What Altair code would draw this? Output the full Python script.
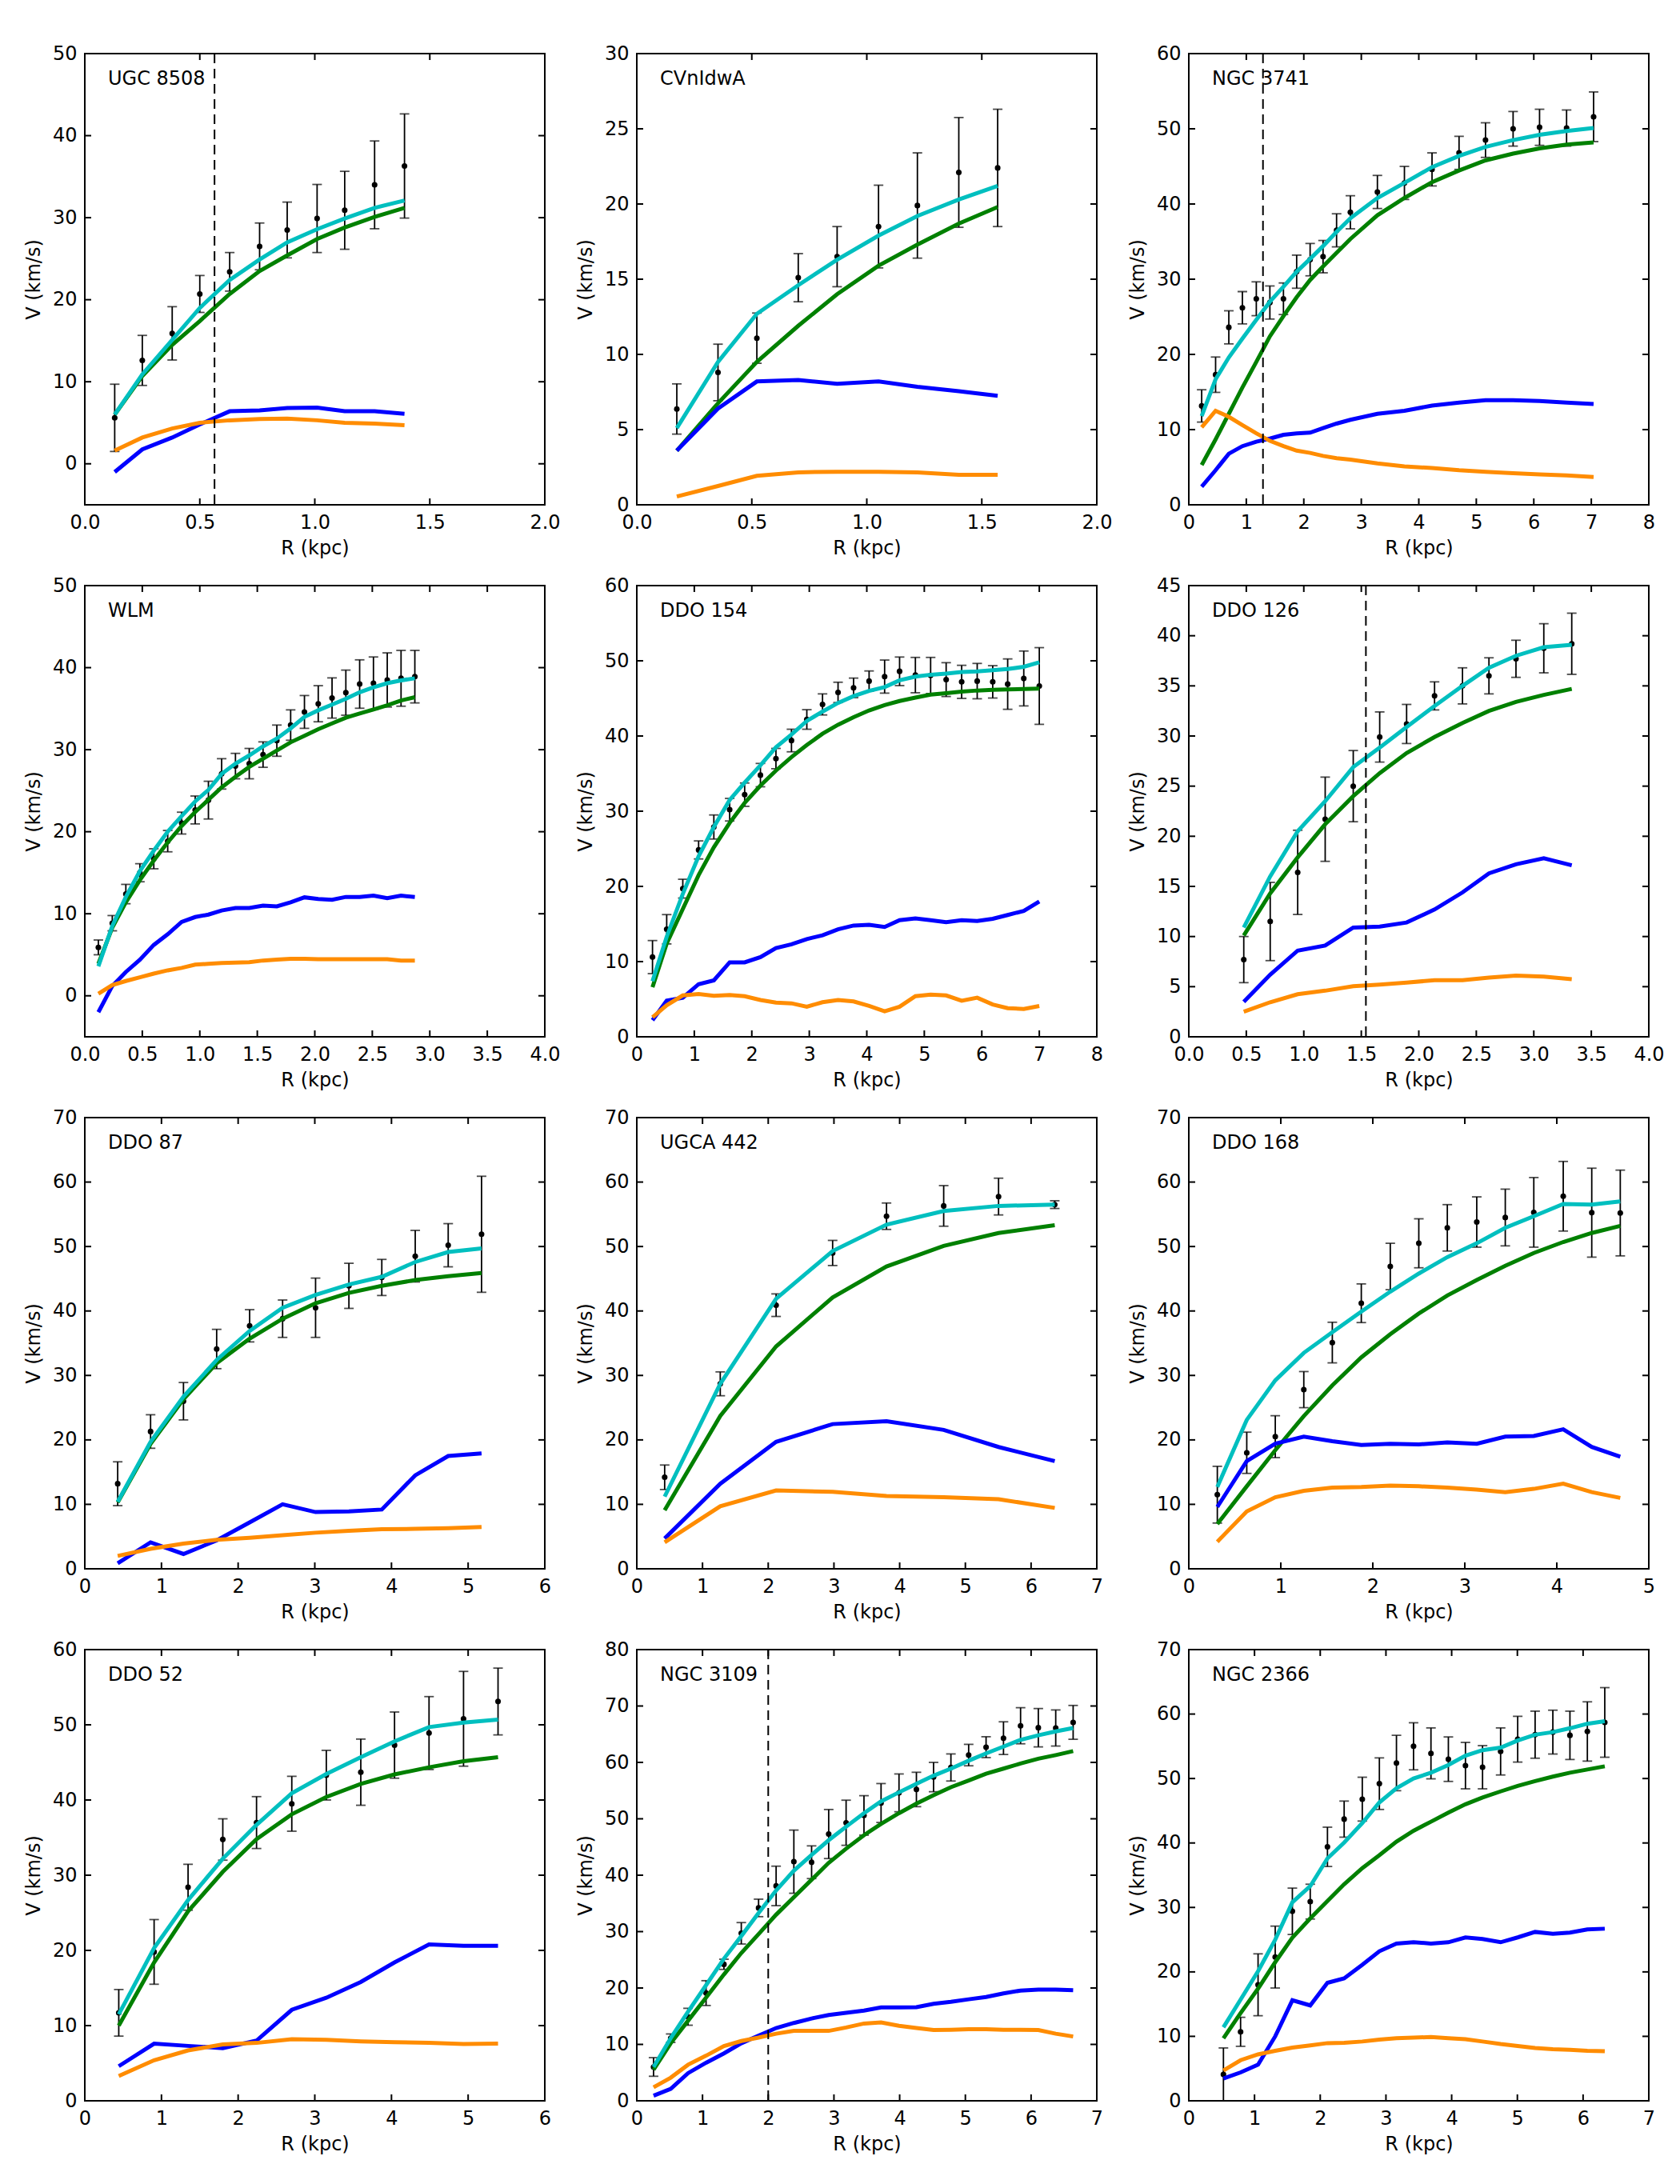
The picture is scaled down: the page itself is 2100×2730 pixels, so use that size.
import altair as alt
import pandas as pd

FONT = "DejaVu Sans"
W, H = 575, 564          # plot area of one panel
TICK = 8                 # inward tick length

GREEN, CYAN, BLUE, ORANGE = "#008000", "#00BFBF", "#0000FF", "#FF8C00"

# ---------------- tick values ----------------
XT_2 = [0.0, 0.5, 1.0, 1.5, 2.0]
XT_4 = [0.0, 0.5, 1.0, 1.5, 2.0, 2.5, 3.0, 3.5, 4.0]
XT_5 = [0, 1, 2, 3, 4, 5]
XT_6 = [0, 1, 2, 3, 4, 5, 6]
XT_7 = [0, 1, 2, 3, 4, 5, 6, 7]
XT_8 = [0, 1, 2, 3, 4, 5, 6, 7, 8]
YT_30 = [0, 5, 10, 15, 20, 25, 30]
YT_45 = [0, 5, 10, 15, 20, 25, 30, 35, 40, 45]
YT_50 = [0, 10, 20, 30, 40, 50]
YT_60 = [0, 10, 20, 30, 40, 50, 60]
YT_70 = [0, 10, 20, 30, 40, 50, 60, 70]
YT_80 = [0, 10, 20, 30, 40, 50, 60, 70, 80]

# ---------------- UGC 8508 ----------------
UGC8508_R = [0.13, 0.25, 0.38, 0.50, 0.63, 0.76, 0.88, 1.01, 1.13, 1.26, 1.39]
UGC8508_V = [5.6, 12.6, 15.9, 20.7, 23.4, 26.5, 28.5, 29.9, 30.9, 34.0, 36.3]
UGC8508_E = [4.1, 3.05, 3.25, 2.25, 2.35, 2.85, 3.4, 4.15, 4.75, 5.35, 6.35]
UGC8508_HALO = [6.0, 10.7, 14.5, 17.4, 20.7, 23.5, 25.4, 27.4, 28.8, 30.1, 31.2]
UGC8508_TOT = [6.0, 10.9, 15.1, 19.0, 22.4, 24.9, 27.0, 28.6, 29.9, 31.2, 32.1]
UGC8508_GAS = [-1.0, 1.75, 3.2, 4.8, 6.4, 6.5, 6.8, 6.85, 6.4, 6.4, 6.1]
UGC8508_STAR = [1.6, 3.2, 4.3, 5.0, 5.3, 5.45, 5.5, 5.3, 5.0, 4.9, 4.7]

# ---------------- CVnIdwA ----------------
CVN_R = [0.174, 0.353, 0.522, 0.702, 0.871, 1.051, 1.22, 1.40, 1.569]
CVN_V = [6.37, 8.8, 11.08, 15.1, 16.5, 18.5, 19.9, 22.1, 22.4]
CVN_E = [1.67, 1.88, 1.67, 1.6, 2.0, 2.75, 3.5, 3.65, 3.9]
CVN_HALO = [3.6, 6.75, 9.5, 11.9, 14.0, 15.9, 17.3, 18.7, 19.8]
CVN_TOT = [5.1, 9.5, 12.7, 14.6, 16.3, 17.9, 19.2, 20.3, 21.2]
CVN_GAS = [3.6, 6.4, 8.2, 8.3, 8.05, 8.2, 7.85, 7.55, 7.25]
CVN_STAR = [0.55, 1.25, 1.93, 2.16, 2.2, 2.2, 2.16, 2.0, 2.0]

# ---------------- NGC 3741 ----------------
N3741_R = [0.224, 0.466, 0.696, 0.932, 1.174, 1.41, 1.646, 1.876, 2.11, 2.335, 2.57,
           2.81, 3.28, 3.75, 4.23, 4.70, 5.16, 5.64, 6.10, 6.57, 7.04]
N3741_V = [13.15, 17.3, 23.6, 26.2, 27.4, 26.9, 27.4, 31.0, 32.6, 33.0, 36.5,
           38.9, 41.6, 42.8, 44.6, 46.8, 48.5, 50.0, 50.2, 50.1, 51.6]
N3741_E = [2.15, 2.35, 2.2, 2.15, 2.25, 2.2, 2.1, 2.2, 2.15, 2.15, 2.2,
           2.2, 2.2, 2.2, 2.2, 2.2, 2.3, 2.3, 2.4, 2.4, 3.3]
N3741_HALO = [5.3, 8.7, 12.1, 15.6, 19.0, 22.4, 25.1, 27.6, 29.9, 31.7, 33.5,
              35.35, 38.5, 40.8, 42.9, 44.45, 45.8, 46.7, 47.4, 47.9, 48.2]
N3741_TOT = [11.8, 16.7, 19.6, 22.1, 24.6, 27.0, 29.0, 31.0, 32.7, 34.4, 36.3,
             38.1, 40.8, 42.8, 44.9, 46.4, 47.6, 48.5, 49.2, 49.7, 50.1]
N3741_GAS = [2.4, 4.6, 6.8, 7.8, 8.4, 8.8, 9.3, 9.5, 9.6, 10.2, 10.8,
             11.3, 12.1, 12.5, 13.2, 13.6, 13.9, 13.9, 13.8, 13.6, 13.4]
N3741_STAR = [10.3, 12.5, 11.7, 10.6, 9.5, 8.5, 7.8, 7.2, 6.9, 6.5, 6.2,
              6.0, 5.5, 5.1, 4.9, 4.6, 4.4, 4.2, 4.05, 3.9, 3.7]

# ---------------- WLM ----------------
WLM_R = [0.118, 0.239, 0.357, 0.479, 0.60, 0.721, 0.842, 0.96, 1.075, 1.19, 1.31, 1.43,
         1.55, 1.67, 1.79, 1.91, 2.03, 2.15, 2.27, 2.39, 2.51, 2.63, 2.75, 2.87]
WLM_V = [5.9, 8.85, 12.4, 15.0, 16.7, 18.85, 21.05, 22.65, 23.85, 27.05, 28.0, 28.3,
         29.4, 31.1, 33.0, 34.6, 35.6, 36.3, 36.95, 38.0, 38.1, 38.5, 38.7, 38.9]
WLM_E = [0.9, 0.93, 1.18, 1.1, 1.22, 1.3, 1.33, 1.7, 2.3, 1.85, 1.55, 1.85,
         1.55, 1.9, 1.85, 2.0, 2.2, 2.45, 2.75, 2.95, 3.2, 3.3, 3.4, 3.2]
WLM_HALO = [3.9, 8.3, 11.4, 14.1, 16.5, 18.7, 20.7, 22.4, 23.9, 25.4, 26.7, 27.9,
            28.9, 29.9, 30.9, 31.7, 32.5, 33.2, 33.9, 34.4, 34.9, 35.4, 36.0, 36.4]
WLM_TOT = [3.6, 8.5, 12.05, 15.2, 17.7, 20.0, 21.9, 23.7, 25.1, 27.05, 28.3, 29.3,
           30.4, 31.35, 32.6, 34.0, 34.8, 35.5, 36.2, 37.0, 37.6, 38.1, 38.45, 38.7]
WLM_GAS = [-2.0, 1.2, 2.9, 4.4, 6.2, 7.5, 9.0, 9.6, 9.9, 10.4, 10.7, 10.7,
           11.0, 10.9, 11.4, 12.0, 11.8, 11.7, 12.05, 12.05, 12.2, 11.9, 12.2, 12.05]
WLM_STAR = [0.25, 1.3, 1.8, 2.25, 2.7, 3.1, 3.4, 3.8, 3.9, 4.0, 4.05, 4.1,
            4.3, 4.4, 4.5, 4.5, 4.45, 4.45, 4.45, 4.45, 4.45, 4.45, 4.3, 4.3]

# ---------------- DDO 154 ----------------
D154_R = [0.273, 0.52, 0.80, 1.075, 1.34, 1.615, 1.876, 2.15, 2.42, 2.69, 2.957, 3.23, 3.50,
          3.77, 4.04, 4.31, 4.57, 4.845, 5.11, 5.38, 5.65, 5.92, 6.19, 6.45, 6.73, 7.0]
D154_V = [10.6, 14.3, 19.7, 24.85, 27.9, 30.2, 32.2, 34.8, 37.0, 39.4, 42.2, 44.2, 45.8,
          46.4, 47.3, 47.9, 48.6, 48.1, 48.05, 47.5, 47.2, 47.3, 47.2, 46.9, 47.65, 46.65]
D154_E = [2.2, 1.95, 1.25, 1.2, 1.6, 1.5, 1.55, 1.55, 1.35, 1.5, 1.3, 1.4, 1.35,
          1.3, 1.35, 2.2, 1.9, 2.35, 2.4, 2.25, 2.2, 2.35, 2.15, 3.35, 3.65, 5.1]
D154_HALO = [6.6, 12.4, 17.0, 21.5, 25.2, 28.45, 31.1, 33.4, 35.4, 37.2, 38.8, 40.3, 41.5,
             42.5, 43.4, 44.1, 44.65, 45.1, 45.5, 45.7, 45.9, 46.05, 46.15, 46.2, 46.25, 46.3]
D154_TOT = [7.4, 13.3, 19.0, 24.0, 27.9, 31.5, 33.8, 36.1, 38.5, 40.2, 42.0, 43.25, 44.4,
            45.3, 46.0, 46.5, 47.4, 47.9, 48.15, 48.3, 48.5, 48.6, 48.75, 48.9, 49.2, 49.8]
D154_GAS = [2.2, 4.8, 5.2, 7.0, 7.5, 9.9, 9.9, 10.6, 11.8, 12.3, 13.0, 13.5, 14.3,
            14.8, 14.9, 14.6, 15.5, 15.75, 15.5, 15.25, 15.5, 15.4, 15.7, 16.2, 16.75, 18.0]
D154_STAR = [2.6, 4.2, 5.5, 5.7, 5.45, 5.55, 5.4, 4.9, 4.55, 4.45, 4.0, 4.6, 4.9,
             4.7, 4.1, 3.4, 4.0, 5.4, 5.6, 5.5, 4.8, 5.2, 4.3, 3.8, 3.7, 4.1]

# ---------------- DDO 126 ----------------
D126_R = [0.478, 0.708, 0.947, 1.186, 1.43, 1.66, 1.894, 2.137, 2.38, 2.61, 2.845, 3.087, 3.33]
D126_V = [7.7, 11.5, 16.4, 21.7, 25.0, 29.9, 31.2, 34.0, 35.0, 36.0, 37.7, 38.75, 39.2]
D126_E = [2.3, 3.9, 4.2, 4.2, 3.55, 2.5, 1.95, 1.4, 1.8, 1.8, 1.85, 2.45, 3.05]
D126_HALO = [10.1, 14.3, 17.9, 21.2, 24.0, 26.3, 28.3, 29.9, 31.3, 32.5, 33.4, 34.1, 34.7]
D126_TOT = [10.9, 16.0, 20.5, 23.5, 26.9, 28.85, 30.9, 33.0, 35.0, 36.8, 38.0, 38.85, 39.1]
D126_GAS = [3.5, 6.2, 8.6, 9.1, 10.9, 11.0, 11.4, 12.7, 14.4, 16.3, 17.2, 17.8, 17.1]
D126_STAR = [2.5, 3.45, 4.25, 4.6, 5.05, 5.2, 5.4, 5.65, 5.65, 5.9, 6.1, 6.0, 5.75]

# ---------------- DDO 87 ----------------
D87_R = [0.429, 0.858, 1.287, 1.72, 2.15, 2.58, 3.01, 3.445, 3.874, 4.31, 4.74, 5.175]
D87_V = [13.2, 21.3, 26.0, 34.1, 37.7, 38.8, 40.5, 43.9, 45.2, 48.5, 50.2, 51.9]
D87_E = [3.4, 2.6, 2.9, 3.05, 2.5, 2.9, 4.6, 3.5, 2.8, 4.0, 3.35, 9.0]
D87_HALO = [10.3, 19.4, 26.3, 31.9, 35.7, 38.8, 41.2, 42.8, 43.9, 44.8, 45.4, 45.9]
D87_TOT = [10.4, 19.7, 26.7, 32.4, 36.9, 40.5, 42.5, 44.1, 45.3, 47.6, 49.15, 49.7]
D87_GAS = [0.85, 4.1, 2.3, 4.4, 7.2, 10.0, 8.8, 8.9, 9.2, 14.5, 17.5, 17.9]
D87_STAR = [2.0, 3.1, 3.9, 4.5, 4.8, 5.2, 5.6, 5.9, 6.15, 6.2, 6.3, 6.5]

# ---------------- UGCA 442 ----------------
U442_R = [0.424, 1.27, 2.12, 2.98, 3.80, 4.67, 5.505, 6.36]
U442_V = [14.2, 28.7, 40.9, 49.0, 54.7, 56.3, 57.75, 56.5]
U442_E = [1.9, 1.85, 1.75, 1.95, 2.05, 3.15, 2.85, 0.6]
U442_HALO = [9.1, 23.7, 34.5, 42.1, 46.9, 50.1, 52.1, 53.3]
U442_TOT = [11.2, 28.7, 41.9, 49.3, 53.4, 55.5, 56.3, 56.5]
U442_GAS = [4.7, 13.2, 19.7, 22.45, 22.9, 21.55, 18.9, 16.7]
U442_STAR = [4.1, 9.7, 12.15, 11.95, 11.3, 11.1, 10.8, 9.45]

# ---------------- DDO 168 ----------------
D168_R = [0.31, 0.63, 0.94, 1.25, 1.56, 1.875, 2.19, 2.50, 2.81, 3.13, 3.44, 3.75, 4.07, 4.38, 4.69]
D168_V = [11.5, 18.0, 20.5, 27.8, 35.1, 41.2, 46.9, 50.5, 52.9, 53.8, 54.5, 55.3, 57.8, 55.25, 55.2]
D168_E = [4.4, 3.2, 3.25, 2.8, 3.15, 3.0, 3.6, 3.8, 3.6, 3.9, 4.4, 5.4, 5.4, 6.9, 6.65]
D168_HALO = [6.95, 12.8, 18.4, 23.7, 28.45, 32.8, 36.4, 39.6, 42.4, 44.8, 47.0, 49.0, 50.7, 52.1, 53.2]
D168_TOT = [12.7, 23.1, 29.25, 33.5, 36.7, 39.9, 43.0, 45.8, 48.35, 50.5, 52.9, 54.7, 56.6, 56.5, 57.0]
D168_GAS = [9.6, 16.7, 19.4, 20.5, 19.8, 19.2, 19.4, 19.3, 19.6, 19.4, 20.5, 20.6, 21.65, 18.9, 17.4]
D168_STAR = [4.2, 8.9, 11.1, 12.1, 12.6, 12.7, 12.9, 12.8, 12.6, 12.3, 11.9, 12.4, 13.2, 11.9, 11.0]

# ---------------- DDO 52 ----------------
D52_R = [0.443, 0.904, 1.347, 1.80, 2.24, 2.70, 3.15, 3.60, 4.04, 4.49, 4.94, 5.39]
D52_V = [11.7, 19.8, 28.4, 34.75, 37.0, 39.5, 43.3, 43.7, 47.3, 48.9, 50.8, 53.1]
D52_E = [3.1, 4.3, 3.05, 2.75, 3.45, 3.65, 3.3, 4.4, 4.4, 4.85, 6.3, 4.45]
D52_HALO = [10.0, 18.4, 25.2, 30.45, 34.8, 38.1, 40.4, 42.15, 43.4, 44.35, 45.15, 45.7]
D52_TOT = [11.5, 20.3, 26.7, 32.2, 36.7, 40.9, 43.45, 45.7, 47.8, 49.7, 50.3, 50.7]
D52_GAS = [4.6, 7.6, 7.3, 7.0, 8.0, 12.1, 13.7, 15.8, 18.4, 20.8, 20.6, 20.6]
D52_STAR = [3.3, 5.4, 6.7, 7.5, 7.7, 8.2, 8.1, 7.9, 7.8, 7.7, 7.55, 7.6]

# ---------------- NGC 3109 ----------------
N3109_R = [0.255, 0.516, 0.78, 1.054, 1.326, 1.59, 1.853, 2.12, 2.39, 2.66, 2.92, 3.185, 3.457,
           3.717, 3.99, 4.255, 4.516, 4.78, 5.05, 5.315, 5.58, 5.84, 6.11, 6.375, 6.64]
N3109_V = [6.0, 11.1, 14.9, 19.1, 24.2, 29.7, 34.2, 38.1, 42.4, 42.3, 47.3, 49.3, 50.6,
           52.8, 54.6, 55.2, 57.4, 59.1, 61.3, 62.7, 64.3, 66.5, 66.15, 66.1, 67.1]
N3109_E = [1.65, 0.75, 1.5, 2.2, 0.9, 1.9, 1.55, 3.5, 5.6, 2.9, 4.35, 4.0, 3.5,
           3.45, 3.35, 3.05, 2.6, 2.4, 1.9, 1.85, 2.9, 3.2, 3.4, 3.2, 3.0]
N3109_HALO = [5.5, 10.2, 14.2, 18.3, 22.4, 26.2, 29.55, 33.0, 36.1, 39.2, 42.2, 44.7, 47.1,
              49.1, 51.0, 52.7, 54.2, 55.6, 56.8, 58.0, 58.9, 59.8, 60.65, 61.3, 62.0]
N3109_TOT = [6.0, 11.1, 15.8, 20.5, 25.2, 29.2, 33.3, 37.3, 40.8, 43.6, 46.2, 48.6, 51.0,
             53.1, 54.7, 56.2, 57.65, 58.9, 60.3, 61.6, 62.8, 64.0, 64.8, 65.5, 66.1]
N3109_GAS = [0.9, 2.1, 4.9, 6.75, 8.4, 10.2, 11.55, 12.9, 13.8, 14.6, 15.2, 15.6, 16.0,
             16.55, 16.55, 16.6, 17.2, 17.55, 18.0, 18.4, 19.05, 19.55, 19.7, 19.7, 19.6]
N3109_STAR = [2.4, 4.1, 6.4, 8.0, 9.7, 10.6, 11.2, 11.9, 12.4, 12.4, 12.4, 13.0, 13.7,
              13.9, 13.3, 12.9, 12.55, 12.6, 12.7, 12.7, 12.6, 12.6, 12.55, 11.9, 11.4]

# ---------------- NGC 2366 ----------------
N2366_R = [0.527, 0.788, 1.054, 1.315, 1.576, 1.848, 2.11, 2.364, 2.64, 2.90, 3.16, 3.42,
           3.685, 3.95, 4.21, 4.47, 4.745, 5.005, 5.27, 5.54, 5.80, 6.065, 6.33]
N2366_V = [4.1, 10.7, 18.0, 22.3, 29.4, 30.9, 39.4, 43.7, 46.8, 49.2, 52.4, 55.0,
           53.9, 53.0, 52.0, 51.75, 54.2, 56.1, 56.8, 57.2, 56.7, 57.3, 58.7]
N2366_E = [4.1, 2.25, 4.8, 4.8, 3.6, 2.7, 3.05, 2.8, 3.4, 4.0, 4.3, 3.65,
           3.95, 3.45, 3.6, 3.35, 3.65, 3.55, 3.65, 3.4, 3.75, 4.6, 5.4]
N2366_HALO = [9.7, 13.6, 17.4, 21.5, 25.3, 28.3, 31.0, 33.6, 36.1, 38.1, 40.2, 41.9,
              43.3, 44.7, 46.0, 47.05, 48.0, 48.85, 49.6, 50.3, 50.9, 51.4, 51.9]
N2366_TOT = [11.4, 15.7, 20.1, 25.0, 30.8, 33.3, 37.6, 40.05, 43.1, 46.3, 48.5, 50.0,
             50.9, 52.1, 53.55, 54.4, 54.8, 55.9, 56.8, 57.2, 57.8, 58.5, 58.9]
N2366_GAS = [3.45, 4.4, 5.6, 10.0, 15.6, 14.8, 18.3, 19.0, 21.1, 23.2, 24.4, 24.6,
             24.4, 24.6, 25.35, 25.1, 24.6, 25.35, 26.2, 25.9, 26.1, 26.6, 26.7]
N2366_STAR = [4.7, 6.3, 7.2, 7.75, 8.25, 8.6, 8.95, 9.0, 9.2, 9.5, 9.7, 9.8,
              9.9, 9.7, 9.55, 9.2, 8.8, 8.5, 8.2, 8.0, 7.9, 7.75, 7.7]


def panel(name, r, v, err, halo, total, gas, stars,
          xmax, xticks, xfmt, ymin, ymax, yticks, rcore=None):
    xs = alt.Scale(domain=[0, xmax], nice=False, zero=False)
    ys = alt.Scale(domain=[ymin, ymax], nice=False, zero=False)
    xax = alt.Axis(title="R (kpc)", values=xticks, format=xfmt, labelFlush=False,
                   labelOverlap=False, labelPadding=10, titlePadding=8)
    yax = alt.Axis(title="V (km/s)", values=yticks, format="d", labelFlush=False,
                   labelOverlap=False, labelPadding=10, titlePadding=11)

    def X(f):
        return alt.X(f, type="quantitative", scale=xs, axis=xax)

    def Y(f):
        return alt.Y(f, type="quantitative", scale=ys, axis=yax)

    obs = pd.DataFrame({"R": r, "V": v, "E": err})
    obs["lo"] = obs["V"] - obs["E"]
    obs["hi"] = obs["V"] + obs["E"]
    model = pd.DataFrame({"R": r, "halo": halo, "total": total,
                          "gas": gas, "stars": stars})
    xt = pd.DataFrame({"t": xticks})
    yt = pd.DataFrame({"t": yticks})

    layers = []
    layers.append(
        alt.Chart(pd.DataFrame({"name": [name]}))
        .mark_text(align="left", baseline="middle", font=FONT, fontSize=24, color="black")
        .encode(x=alt.value(29), y=alt.value(32), text="name:N")
    )
    # observed rotation curve with error bars
    layers.append(alt.Chart(obs).mark_rule(color="black", strokeWidth=1.8)
                  .encode(x=X("R"), y=Y("lo"), y2="hi"))
    for end in ("lo", "hi"):
        layers.append(alt.Chart(obs).mark_tick(orient="horizontal", size=12,
                                               thickness=1.8, color="black")
                      .encode(x=X("R"), y=Y(end)))
    layers.append(alt.Chart(obs).mark_circle(size=50, color="black", opacity=1)
                  .encode(x=X("R"), y=Y("V")))
    # model components
    for col, colour in (("halo", GREEN), ("total", CYAN), ("gas", BLUE), ("stars", ORANGE)):
        layers.append(alt.Chart(model).mark_line(color=colour, strokeWidth=5)
                      .encode(x=X("R"), y=Y(col)))
    if rcore is not None:
        layers.append(
            alt.Chart(pd.DataFrame({"rc": [rcore]}))
            .mark_rule(color="black", strokeWidth=2, strokeDash=[12, 7])
            .encode(x=X("rc"))
        )
    # inward ticks on all four sides
    layers.append(alt.Chart(xt).mark_rule(color="black", strokeWidth=2)
                  .encode(x=X("t"), y=alt.value(0), y2=alt.value(TICK)))
    layers.append(alt.Chart(xt).mark_rule(color="black", strokeWidth=2)
                  .encode(x=X("t"), y=alt.value(H), y2=alt.value(H - TICK)))
    layers.append(alt.Chart(yt).mark_rule(color="black", strokeWidth=2)
                  .encode(y=Y("t"), x=alt.value(0), x2=alt.value(TICK)))
    layers.append(alt.Chart(yt).mark_rule(color="black", strokeWidth=2)
                  .encode(y=Y("t"), x=alt.value(W), x2=alt.value(W - TICK)))
    return alt.layer(*layers).properties(width=W, height=H)


panels = [
    panel("UGC 8508", UGC8508_R, UGC8508_V, UGC8508_E, UGC8508_HALO, UGC8508_TOT,
          UGC8508_GAS, UGC8508_STAR, 2.0, XT_2, ".1f", -5, 50, YT_50, 0.564),
    panel("CVnIdwA", CVN_R, CVN_V, CVN_E, CVN_HALO, CVN_TOT, CVN_GAS, CVN_STAR,
          2.0, XT_2, ".1f", 0, 30, YT_30),
    panel("NGC 3741", N3741_R, N3741_V, N3741_E, N3741_HALO, N3741_TOT, N3741_GAS,
          N3741_STAR, 8, XT_8, "d", 0, 60, YT_60, 1.29),
    panel("WLM", WLM_R, WLM_V, WLM_E, WLM_HALO, WLM_TOT, WLM_GAS, WLM_STAR,
          4.0, XT_4, ".1f", -5, 50, YT_50),
    panel("DDO 154", D154_R, D154_V, D154_E, D154_HALO, D154_TOT, D154_GAS, D154_STAR,
          8, XT_8, "d", 0, 60, YT_60),
    panel("DDO 126", D126_R, D126_V, D126_E, D126_HALO, D126_TOT, D126_GAS, D126_STAR,
          4.0, XT_4, ".1f", 0, 45, YT_45, 1.54),
    panel("DDO 87", D87_R, D87_V, D87_E, D87_HALO, D87_TOT, D87_GAS, D87_STAR,
          6, XT_6, "d", 0, 70, YT_70),
    panel("UGCA 442", U442_R, U442_V, U442_E, U442_HALO, U442_TOT, U442_GAS, U442_STAR,
          7, XT_7, "d", 0, 70, YT_70),
    panel("DDO 168", D168_R, D168_V, D168_E, D168_HALO, D168_TOT, D168_GAS, D168_STAR,
          5, XT_5, "d", 0, 70, YT_70),
    panel("DDO 52", D52_R, D52_V, D52_E, D52_HALO, D52_TOT, D52_GAS, D52_STAR,
          6, XT_6, "d", 0, 60, YT_60),
    panel("NGC 3109", N3109_R, N3109_V, N3109_E, N3109_HALO, N3109_TOT, N3109_GAS,
          N3109_STAR, 7, XT_7, "d", 0, 80, YT_80, 2.0),
    panel("NGC 2366", N2366_R, N2366_V, N2366_E, N2366_HALO, N2366_TOT, N2366_GAS,
          N2366_STAR, 7, XT_7, "d", 0, 70, YT_70),
]

chart = (
    alt.concat(*panels, columns=3, spacing={"row": 101, "column": 115}, bounds="flush")
    .configure_axis(grid=False, domain=False, ticks=False, tickSize=0,
                    labelFont=FONT, labelFontSize=24, labelColor="black",
                    titleFont=FONT, titleFontSize=24, titleFontWeight="normal",
                    titleColor="black")
    .configure_view(stroke="black", strokeWidth=2)
    .properties(padding={"left": 29, "top": 54, "right": 10, "bottom": 10},
                background="white")
)

chart.save("out.html", embed_options={"renderer": "svg", "actions": False})
